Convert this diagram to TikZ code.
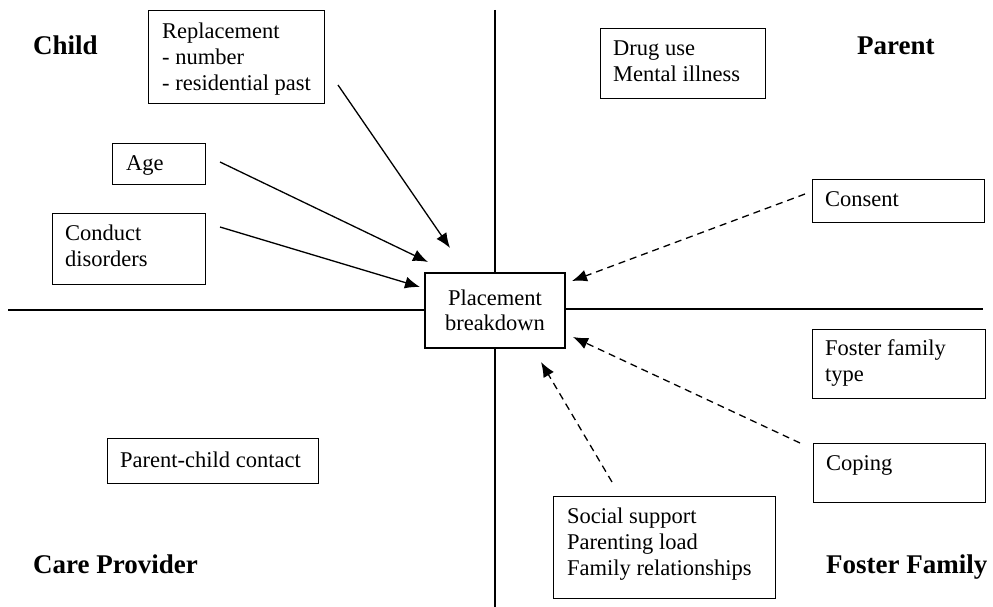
\documentclass[tikz,border=0pt]{standalone}
\usepackage{fontspec}
\setmainfont{Liberation Serif}
\usetikzlibrary{arrows.meta}
\begin{document}
\begin{tikzpicture}[x=1pt,y=-1pt,
  box/.style={draw, line width=1.2pt, inner sep=0pt, anchor=north west},
  txt/.style={anchor=north west, inner sep=0pt, align=left, font=\fontsize{22.5}{26}\selectfont},
  quad/.style={anchor=base west, inner sep=0pt, font=\fontsize{27}{30}\bfseries\selectfont},
  axis/.style={line width=1.2pt},
  arr/.style={line width=1.3pt, -{Latex[length=15pt,width=12pt]}},
  darr/.style={arr, dash pattern=on 7pt off 5pt}]
\useasboundingbox (0,0) rectangle (993,607);
% quadrant labels
\node[quad] (child) at (33,55) {Child};
\node[quad] (parent) at (857,55) {Parent};
\node[quad] (carep) at (33,573) {Care Provider};
\node[quad] (fosterf) at (826,573) {Foster Family};
% central box
\node[draw, line width=1.2pt, minimum width=140pt, minimum height=75pt, inner sep=0pt, align=center,
  font=\fontsize{22.5}{25}\selectfont] (pb) at (495,310.5) {Placement\\breakdown};
% axes
\coordinate (axL) at (8,310);
\coordinate (axR) at (983,309);
\coordinate (axT) at (495,10);
\coordinate (axB) at (495,607);
\draw[axis] (axL) -- (axL -| pb.west);
\draw[axis] (pb.east |- axR) -- (axR);
\draw[axis] (axT) -- (pb.north);
\draw[axis] (pb.south) -- (axB);
% boxes
\node[box, minimum width=176pt, minimum height=93pt] (rep) at (148,10) {};
\node[txt] (repT) at (162,19.8) {\strut Replacement\\- number\\- residential past};
\node[box, minimum width=93pt, minimum height=41pt] (age) at (112,143) {};
\node[txt] (ageT) at (126,151.8) {\strut Age};
\node[box, minimum width=153pt, minimum height=71pt] (cond) at (52,213) {};
\node[txt] (condT) at (65,221.8) {\strut Conduct\\disorders};
\node[box, minimum width=165pt, minimum height=70pt] (drug) at (600,28) {};
\node[txt] (drugT) at (613,36.8) {\strut Drug use\\Mental illness};
\node[box, minimum width=172pt, minimum height=43pt] (cons) at (812,179) {};
\node[txt] (consT) at (825,187.8) {\strut Consent};
\node[box, minimum width=173pt, minimum height=69pt] (ftype) at (812,329) {};
\node[txt] (ftypeT) at (825,336.8) {\strut Foster family\\type};
\node[box, minimum width=172pt, minimum height=59pt] (cop) at (813,443) {};
\node[txt] (copT) at (826,451.8) {\strut Coping};
\node[box, minimum width=222pt, minimum height=102pt] (soc) at (553,496) {};
\node[txt] (socT) at (567,504.8) {\strut Social support\\Parenting load\\Family relationships};
\node[box, minimum width=211pt, minimum height=45pt] (pcc) at (107,438) {};
\node[txt] (pccT) at (120,448.8) {\strut Parent-child contact};
% arrows
\coordinate (repS) at (338,85);   \coordinate (repE) at (450,248);
\coordinate (ageS) at (220,162);  \coordinate (ageE) at (428,262);
\coordinate (condS) at (220,227); \coordinate (condE) at (420,287);
\coordinate (consS) at (805,194); \coordinate (consE) at (572,281);
\coordinate (copS) at (800,443);  \coordinate (copE) at (573,337);
\coordinate (socS) at (612,482);  \coordinate (socE) at (541,362);
\draw[arr] (repS) -- (repE);
\draw[arr] (ageS) -- (ageE);
\draw[arr] (condS) -- (condE);
\draw[darr] (consS) -- (consE);
\draw[darr] (copS) -- (copE);
\draw[darr] (socS) -- (socE);
\end{tikzpicture}
\end{document}
